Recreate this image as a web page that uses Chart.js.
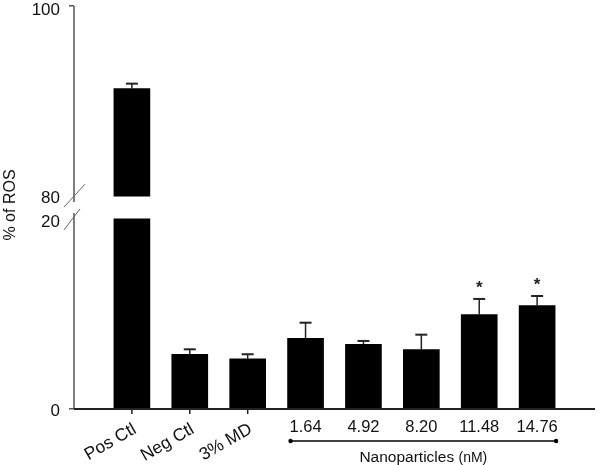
<!DOCTYPE html>
<html><head><meta charset="utf-8">
<script src="https://cdn.jsdelivr.net/npm/chart.js@4/dist/chart.umd.min.js"></script>
<style>html,body{margin:0;padding:0;background:#fff}</style>
</head><body>
<canvas id="c" width="600" height="465"></canvas>
<script>
// ---- data ----
const categories = ['Pos Ctl', 'Neg Ctl', '3% MD', '1.64', '4.92', '8.20', '11.48', '14.76'];
const rosMean = [91.3, 5.76, 5.29, 7.44, 6.81, 6.24, 9.93, 10.87];
const rosError = [0.53, 0.52, 0.47, 1.64, 0.35, 1.58, 1.65, 1.02];
const significant = [false, false, false, false, false, false, true, true];
const rotatedLabelCount = 3;
const yTickLabels = [0, 20, 80, 100];
const yTitle = '% of ROS';
const groupLabel = 'Nanoparticles';
const groupUnit = '(nM)';

// ---- broken axis transform ----
const BREAK_LOW = 20, BREAK_HIGH = 80, GAP = 2.4;
function tr(v) {
  if (v <= BREAK_LOW) return v;
  if (v >= BREAK_HIGH) return v - BREAK_HIGH + BREAK_LOW + GAP;
  return BREAK_LOW + GAP / 2;
}
const FONT = '"Liberation Sans", Arial, sans-serif';

const labels = [''].concat(categories, ['']);
const lowData = [null].concat(rosMean.map(v => [0, Math.min(v, BREAK_LOW)]), [null]);
const highData = [null].concat(rosMean.map(v => v > BREAK_HIGH ? [tr(BREAK_HIGH), tr(v)] : null), [null]);

const decor = {
  id: 'decor',
  afterDatasetsDraw(chart) {
    const ctx = chart.ctx, xs = chart.scales.x, ys = chart.scales.y, a = chart.chartArea;
    ctx.save();
    const axX = a.left;
    const y80 = ys.getPixelForValue(tr(BREAK_HIGH)), y20 = ys.getPixelForValue(BREAK_LOW);
    // y tick labels
    ctx.fillStyle = '#111'; ctx.font = '17px ' + FONT; ctx.textAlign = 'right'; ctx.textBaseline = 'middle';
    yTickLabels.forEach(v => {
      ctx.fillText(String(v), axX - 14, ys.getPixelForValue(tr(v)) + (v === 80 ? 2 : v === 20 ? 3 : v === 100 ? 4 : 2));
    });
    // y axis line with break
    ctx.strokeStyle = '#555'; ctx.lineWidth = 1.5;
    ctx.beginPath();
    ctx.moveTo(axX, a.top); ctx.lineTo(axX, y80 + 6);
    ctx.moveTo(axX, y20 - 6); ctx.lineTo(axX, a.bottom);
    ctx.stroke();
    // break slashes
    ctx.lineWidth = 1; ctx.strokeStyle = '#666';
    ctx.beginPath();
    ctx.moveTo(axX - 10, y80 + 11); ctx.lineTo(axX + 11, y80 - 12);
    ctx.moveTo(axX - 10, y20 + 11); ctx.lineTo(axX + 6, y20 - 10);
    ctx.stroke();
    // x axis line
    ctx.strokeStyle = '#222'; ctx.lineWidth = 2;
    ctx.beginPath(); ctx.moveTo(axX, a.bottom); ctx.lineTo(a.right, a.bottom); ctx.stroke();
    // error bars and asterisks
    categories.forEach((c, i) => {
      const x = xs.getPixelForValue(i + 1);
      const yTop = ys.getPixelForValue(tr(rosMean[i]));
      const yCap = ys.getPixelForValue(tr(rosMean[i] + rosError[i]));
      ctx.strokeStyle = '#222'; ctx.lineWidth = 1.5;
      ctx.beginPath(); ctx.moveTo(x, yTop); ctx.lineTo(x, yCap); ctx.stroke();
      ctx.lineWidth = 2;
      ctx.beginPath(); ctx.moveTo(x - 6, yCap); ctx.lineTo(x + 6, yCap); ctx.stroke();
      if (significant[i]) {
        ctx.fillStyle = '#222'; ctx.font = 'bold 17px ' + FONT;
        ctx.textAlign = 'center'; ctx.textBaseline = 'middle';
        ctx.fillText('*', x, yCap - 11);
      }
    });
    // x labels
    ctx.fillStyle = '#111';
    categories.forEach((c, i) => {
      const x = xs.getPixelForValue(i + 1);
      if (i < rotatedLabelCount) {
        ctx.strokeStyle = '#222'; ctx.lineWidth = 1.5;
        ctx.beginPath(); ctx.moveTo(x, a.bottom); ctx.lineTo(x, a.bottom + 5); ctx.stroke();
        ctx.save();
        ctx.translate(x + 3, a.bottom + 19);
        ctx.rotate(-Math.PI / 6);
        ctx.font = '17.5px ' + FONT; ctx.textAlign = 'right'; ctx.textBaseline = 'middle';
        ctx.fillText(c, 0, 0);
        ctx.restore();
      } else {
        ctx.font = '16.5px ' + FONT; ctx.textAlign = 'center'; ctx.textBaseline = 'middle';
        ctx.fillText(c, x, a.bottom + 18);
      }
    });
    // group bracket
    const gx0 = xs.getPixelForValue(rotatedLabelCount + 1) - 15;
    const gx1 = xs.getPixelForValue(categories.length) + 19;
    const gy = a.bottom + 32;
    ctx.strokeStyle = '#000'; ctx.lineWidth = 1.5;
    ctx.beginPath(); ctx.moveTo(gx0, gy); ctx.lineTo(gx1, gy); ctx.stroke();
    ctx.fillStyle = '#000';
    [gx0, gx1].forEach(px => { ctx.beginPath(); ctx.arc(px, gy, 2.2, 0, Math.PI * 2); ctx.fill(); });
    ctx.fillStyle = '#111';
    ctx.font = '15.5px ' + FONT; ctx.textBaseline = 'middle';
    const w1 = ctx.measureText(groupLabel + ' ').width;
    ctx.font = '14px ' + FONT;
    const w2 = ctx.measureText(groupUnit).width;
    const cx = (gx0 + gx1) / 2, startX = cx - (w1 + w2) / 2;
    ctx.textAlign = 'left';
    ctx.font = '15.5px ' + FONT; ctx.fillText(groupLabel + ' ', startX, gy + 17);
    ctx.font = '14px ' + FONT; ctx.fillText(groupUnit, startX + w1, gy + 17);
    // y title
    ctx.save();
    ctx.translate(11, 205); ctx.rotate(-Math.PI / 2);
    ctx.font = '16px ' + FONT; ctx.textAlign = 'center'; ctx.textBaseline = 'middle';
    ctx.fillText(yTitle, 0, 0);
    ctx.restore();
    ctx.restore();
  }
};

new Chart(document.getElementById('c'), {
  type: 'bar',
  data: {
    labels: labels,
    datasets: [
      { data: lowData, backgroundColor: '#000', borderWidth: 0, barThickness: 36, grouped: false },
      { data: highData, backgroundColor: '#000', borderWidth: 0, barThickness: 36, grouped: false }
    ]
  },
  options: {
    responsive: false, animation: false, devicePixelRatio: 1,
    layout: { padding: { left: 0, right: 5, top: 6, bottom: 56 } },
    plugins: { legend: { display: false }, tooltip: { enabled: false } },
    scales: {
      x: { type: 'category', offset: false, display: false },
      y: {
        type: 'linear', min: 0, max: tr(100),
        afterFit: s => { s.width = 74; s.paddingTop = 0; s.paddingBottom = 0; },
        afterBuildTicks: s => { s.ticks = yTickLabels.map(v => ({ value: tr(v) })); },
        ticks: { display: false },
        grid: { drawOnChartArea: false, drawTicks: true, tickLength: 5, lineWidth: 1.5,
                color: c => (c.index === 0 || c.index === 3) ? '#555' : 'rgba(0,0,0,0)' },
        border: { display: false }
      }
    }
  },
  plugins: [decor]
});
</script>
</body></html>
